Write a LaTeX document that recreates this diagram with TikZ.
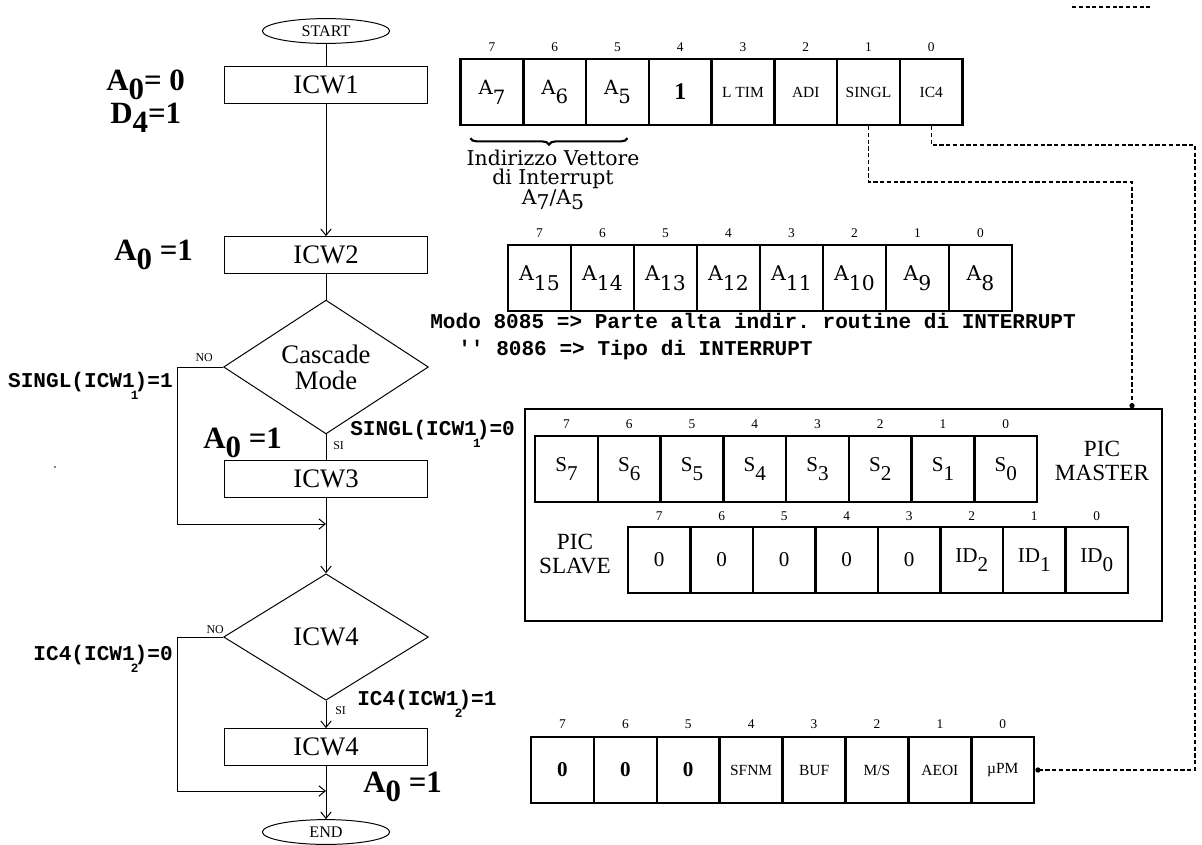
\documentclass[tikz,border=0pt]{standalone}
\usepackage{fontspec}
\setmainfont{Liberation Serif}
\setmonofont{Liberation Mono}
\newfontfamily\wideserif{DejaVu Serif}
\usetikzlibrary{arrows.meta, positioning, calc, shapes.geometric, decorations.pathreplacing}

\newcommand{\setfs}[1]{\fontsize{#1}{#1}\selectfont}
\newcommand{\lo}[2][0.5em]{\raisebox{-#1}{#2}}
\newcommand{\sbx}[1]{\makebox[0pt]{\raisebox{-9pt}{\setfs{9}#1}}}
\newcommand{\smlab}{\setfs{11}}
\newcommand{\widea}{\wideserif\setfs{14}}
\newcommand{\wideb}{\wideserif\setfs{14.5}}

\tikzset{
  ln/.style    = {line width=0.7pt},
  arr/.style   = {ln, -{Straight Barb[length=1.6mm, width=2.6mm]}},
  flow/.style  = {ln, draw, minimum width=5.08cm, minimum height=0.92cm,
                  inner sep=0pt, font=\setfs{19}},
  term/.style  = {ln, draw, ellipse, minimum width=3.18cm, minimum height=0.62cm,
                  inner sep=0pt, font=\setfs{11.5}},
  dec/.style   = {ln, draw, diamond, minimum width=5.12cm, minimum height=3.16cm,
                  inner sep=0pt, align=center, font=\fontsize{19}{18.5}\selectfont},
  cond/.style  = {anchor=base west, inner sep=0pt, font=\bfseries\setfs{22}},
  tag/.style   = {inner sep=0pt, font=\ttfamily\bfseries\setfs{15}},
  yn/.style    = {inner sep=0pt, font=\setfs{8.5}},
  bit/.style   = {draw, line width=1.7pt, minimum width=1.57cm, minimum height=1.65cm,
                  inner sep=0pt, font=\setfs{15}},
  num/.style   = {inner sep=0pt, font=\setfs{9.5}},
  side/.style  = {inner sep=0pt, align=center, font=\fontsize{16.5}{17}\selectfont},
  link/.style  = {line width=0.8pt, dash pattern=on 3pt off 1.8pt},
  tap/.style   = {link, -{Circle[length=1.3mm]}},
}

\begin{document}
\begin{tikzpicture}[x=0.025cm, y=-0.025cm]
\useasboundingbox (0,0) rectangle (1202,844);

% =========================================================================
% Diagramma di flusso
% =========================================================================
\node[term] (start) at (326,31)  {START};
\node[flow] (icw1)  at (326,85)  {ICW1};
\node[flow] (icw2)  at (326,255) {ICW2};
\node[dec]  (casc)  at (326,367) {Cascade\\Mode};
\node[flow] (icw3)  at (326,479) {ICW3};
\node[dec]  (ask4)  at (326,637) {ICW4};
\node[flow] (icw4)  at (326,747) {ICW4};
\node[term] (stop)  at (326,832) {END};
\coordinate (join1) at (326,524);
\coordinate (join2) at (326,791);

\draw[ln]  (start) -- (icw1);
\draw[arr] (icw1) -- (icw2);
\draw[ln]  (icw2) -- (casc);
\draw[ln]  (casc) -- (icw3);
\draw[arr] (icw3) -- (ask4);
\draw[arr] (casc.west) -- ++(-46,0) |- (join1);
\draw[arr] (ask4) -- (icw4);
\draw[arr] (icw4) -- (stop);
\draw[arr] (ask4.west) -- ++(-46,0) |- (join2);

\node[cond] (c1a) at (106,90)  {A\lo[0.3em]{0}= 0};
\node[cond] (c1b) at (110,123) {D\lo[0.3em]{4}=1};
\node[cond] (c2)  at (114,260) {A\lo[0.3em]{0} =1};
\node[cond] (c3)  at (203,448) {A\lo[0.3em]{0} =1};
\node[cond] (c4)  at (363,792) {A\lo[0.3em]{0} =1};

\node[yn, anchor=south east] (no1) at ($(casc.west)+(-10,-5)$) {NO};
\node[yn, anchor=north west] (si1) at ($(casc.south)+(7,7)$)   {SI};
\node[yn, anchor=south east] (no2) at ($(ask4.west)+(1,-3)$)   {NO};
\node[yn, anchor=north west] (si2) at ($(ask4.south)+(9,6)$)   {SI};

\node[tag, anchor=base east] (sg1) at (173,387) {SINGL(ICW1\sbx{1})=1};
\node[tag, anchor=base west] (sg0) at (350,435) {SINGL(ICW1\sbx{1})=0};
\node[tag, anchor=base east] (ic0) at (173,660) {IC4(ICW1\sbx{2})=0};
\node[tag, anchor=base west] (ic1) at (357,705) {IC4(ICW1\sbx{2})=1};

\fill (55,467) circle[radius=0.7pt];

% =========================================================================
% ICW1
% =========================================================================
\foreach \bn/\txt [count=\k from 0] in {7/{\widea A\lo{7}}, 6/{\widea A\lo{6}},
    5/{\widea A\lo{5}}, 4/{\bfseries\setfs{17}1}, 3/{\smlab L TIM},
    2/{\smlab ADI}, 1/{\smlab SINGL}, 0/{\smlab IC4}} {
  \node[bit] (ra\bn) at ({492+62.75*\k},92) {\txt};
  \node[num] at ($(ra\bn.north)+(0,-11)$) {\bn};
}
\draw[line width=1.5pt, decorate, decoration={brace, mirror, amplitude=1.6mm}]
  ($(ra7.south west)+(11,12)$) -- ($(ra5.south)+(10,12)$);
\node[inner sep=0pt, align=center, font=\wideserif\fontsize{14.5}{13.5}\selectfont]
  (vect) at (553,180) {Indirizzo Vettore\\di Interrupt\\A\lo[0.25em]{7}/A\lo[0.25em]{5}};

% =========================================================================
% ICW2
% =========================================================================
\foreach \bn/\txt [count=\k from 0] in {7/15, 6/14, 5/13, 4/12, 3/11, 2/10, 1/9, 0/8} {
  \node[bit] (rb\bn) at ({539.5+63*\k},278) {\wideb A\lo{\txt}};
  \node[num] at ($(rb\bn.north)+(0,-11)$) {\bn};
}
\node[tag, anchor=base west] (modo) at (430,328)
  {Modo 8085 => Parte alta indir. routine di INTERRUPT};
\node[tag, anchor=base west] (tipo) at (458,355) {'' 8086 => Tipo di INTERRUPT};

% =========================================================================
% ICW3
% =========================================================================
\node[draw, line width=1pt, minimum width=15.93cm, minimum height=5.3cm,
      inner sep=0pt] (picbox) at (843.5,515) {};
\foreach \bn [count=\k from 0] in {7,6,5,4,3,2,1,0} {
  \node[bit] (rm\bn) at ({566.4+62.75*\k},469) {S\lo[0.45em]{\bn}};
  \node[num] at ($(rm\bn.north)+(0,-11)$) {\bn};
}
\node[side] (mlab) at (1102,461) {PIC\\MASTER};
\foreach \bn/\txt [count=\k from 0] in {7/0, 6/0, 5/0, 4/0, 3/0,
    2/{ID\lo[0.4em]{2}}, 1/{ID\lo[0.4em]{1}}, 0/{ID\lo[0.4em]{0}}} {
  \node[bit] (rs\bn) at ({659.25+62.5*\k},560) {\txt};
  \node[num] at ($(rs\bn.north)+(0,-10)$) {\bn};
}
\node[side] (slab) at (575,554) {PIC\\SLAVE};

% =========================================================================
% ICW4
% =========================================================================
\foreach \bn/\txt [count=\k from 0] in {7/{\bfseries 0}, 6/{\bfseries 0},
    5/{\bfseries 0}, 4/{\smlab SFNM}, 3/{\smlab BUF}, 2/{\smlab M/S},
    1/{\smlab AEOI}, 0/{\smlab µPM}} {
  \node[bit] (rd\bn) at ({562.45+62.9*\k},770) {\txt};
  \node[num] at ($(rd\bn.north)+(0,-12)$) {\bn};
}

% collegamenti tratteggiati
\coordinate (sgturn) at (1132,182);
\coordinate (icturn) at (1195,145);
\draw[tap] (ra1.south) |- (sgturn) -- (sgturn |- picbox.north);
\draw[tap] (ra0.south) |- (icturn) |- (rd0.east);
\draw[link] (1072,7) -- (1152,7);

\end{tikzpicture}
\end{document}
